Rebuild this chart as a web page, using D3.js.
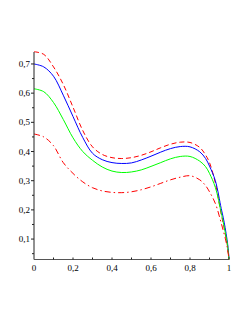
<!DOCTYPE html>
<html><head><meta charset="utf-8">
<script src="https://cdn.jsdelivr.net/npm/d3@7"></script>
<style>body{margin:0;background:#fff}svg{display:block}</style>
</head><body>
<script>
const xs = [0,0.05,0.1,0.15,0.2,0.25,0.3,0.35,0.4,0.45,0.5,0.55,0.6,0.65,0.7,0.75,0.8,0.85,0.88,0.9,0.93,0.96,0.97,0.98,0.99,0.995,1];
const redDash = [0.742,0.733,0.690,0.630,0.552,0.472,0.416,0.390,0.379,0.376,0.379,0.387,0.399,0.413,0.425,0.432,0.431,0.414,0.388,0.362,0.292,0.185,0.155,0.120,0.085,0.060,0.030];
const blue    = [0.700,0.690,0.658,0.593,0.520,0.448,0.394,0.372,0.362,0.359,0.361,0.371,0.384,0.398,0.410,0.417,0.416,0.399,0.376,0.350,0.300,0.205,0.175,0.140,0.098,0.072,0.035];
const green   = [0.615,0.605,0.568,0.510,0.447,0.400,0.370,0.347,0.333,0.328,0.330,0.337,0.349,0.362,0.375,0.383,0.383,0.367,0.348,0.325,0.277,0.190,0.160,0.125,0.090,0.065,0.030];
const redDot  = [0.460,0.450,0.420,0.362,0.325,0.296,0.276,0.265,0.260,0.259,0.262,0.269,0.279,0.291,0.303,0.312,0.317,0.303,0.283,0.262,0.222,0.155,0.130,0.105,0.075,0.055,0.030];
const xTickVals = [0,0.2,0.4,0.6,0.8,1];
const xTickLabels = ["0","0,2","0,4","0,6","0,8","1"];
const yTickVals = [0.1,0.2,0.3,0.4,0.5,0.6,0.7];
const yTickLabels = ["0,1","0,2","0,3","0,4","0,5","0,6","0,7"];

const W=249,H=323;
const svg=d3.select("body").append("svg").attr("width",W).attr("height",H);
const x=d3.scaleLinear().domain([0,1]).range([34,229]);
const y=d3.scaleLinear().domain([0.03,0.741]).range([259.5,52]);

const series=[
 {v:redDash,c:"#ff0000",d:"5,3"},
 {v:blue,c:"#0000ff",d:null},
 {v:green,c:"#00ff00",d:null},
 {v:redDot,c:"#ff0000",d:"6,3,1.5,3"}
];
const line=d3.line().x((d,i)=>x(xs[i])).y(d=>y(d)).curve(d3.curveCatmullRom.alpha(0.5));
series.forEach(s=>{
  svg.append("path").datum(s.v).attr("d",line).attr("fill","none")
   .attr("stroke",s.c).attr("stroke-width",1)
   .attr("stroke-dasharray",s.d);
});

const ax=svg.append("g").attr("stroke","#222").attr("stroke-width",1);
ax.append("line").attr("x1",x(0)).attr("x2",x(0)).attr("y1",y(0.741)).attr("y2",y(0.03));
ax.append("line").attr("x1",x(0)).attr("x2",x(1)).attr("y1",y(0.03)).attr("y2",y(0.03)).attr("stroke","#555");
d3.range(0.05,0.74,0.05).forEach(v=>{
  const major=Math.abs(v*10-Math.round(v*10))<1e-6;
  ax.append("line").attr("x1",x(0)-(major?3:2)).attr("x2",x(0)).attr("y1",y(v)).attr("y2",y(v));
});
d3.range(0.1,1.001,0.1).forEach(v=>{
  ax.append("line").attr("x1",x(v)).attr("x2",x(v)).attr("y1",y(0.03)).attr("y2",y(0.03)-2);
});
const tf="'Liberation Serif','DejaVu Serif',serif";
svg.selectAll(".yl").data(yTickVals).enter().append("text")
 .attr("x",x(0)-4).attr("y",d=>y(d)+3).attr("text-anchor","end")
 .attr("font-family",tf).attr("font-size",9).attr("fill","#000")
 .text((d,i)=>yTickLabels[i]);
svg.selectAll(".xl").data(xTickVals).enter().append("text")
 .attr("x",d=>x(d)).attr("y",270.5).attr("text-anchor","middle")
 .attr("font-family",tf).attr("font-size",9).attr("fill","#000")
 .text((d,i)=>xTickLabels[i]);
</script>
</body></html>
